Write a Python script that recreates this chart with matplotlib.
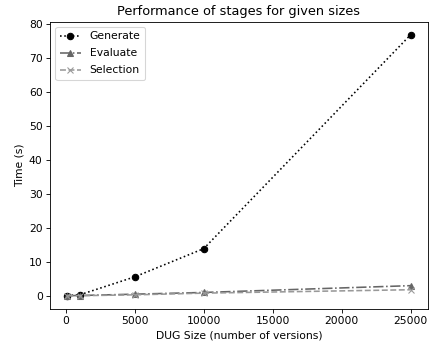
import numpy as np
import matplotlib.pyplot as plt

sizes = [100, 1000, 5000, 10000, 25000]
generate = [0.1, 0.3, 5.6, 13.9, 76.8]
evaluate = [0.05, 0.1, 0.5, 1.0, 3.0]
selection = [0.02, 0.05, 0.3, 0.8, 1.8]

fig, ax = plt.subplots(figsize=(432 / 77, 347 / 77), dpi=77)
ax.plot(sizes, generate, ':', color='black', marker='o', label='Generate')
ax.plot(sizes, evaluate, '-.', color='#666666', marker='^', label='Evaluate')
ax.plot(sizes, selection, '--', color='#999999', marker='x', label='Selection')

ax.set_title('Performance of stages for given sizes')
ax.set_xlabel('DUG Size (number of versions)')
ax.set_ylabel('Time (s)')
ax.legend(loc='upper left', labelspacing=0.65)

plt.subplots_adjust(left=0.116, right=0.99, bottom=0.11, top=0.937)
plt.savefig('out.png')
